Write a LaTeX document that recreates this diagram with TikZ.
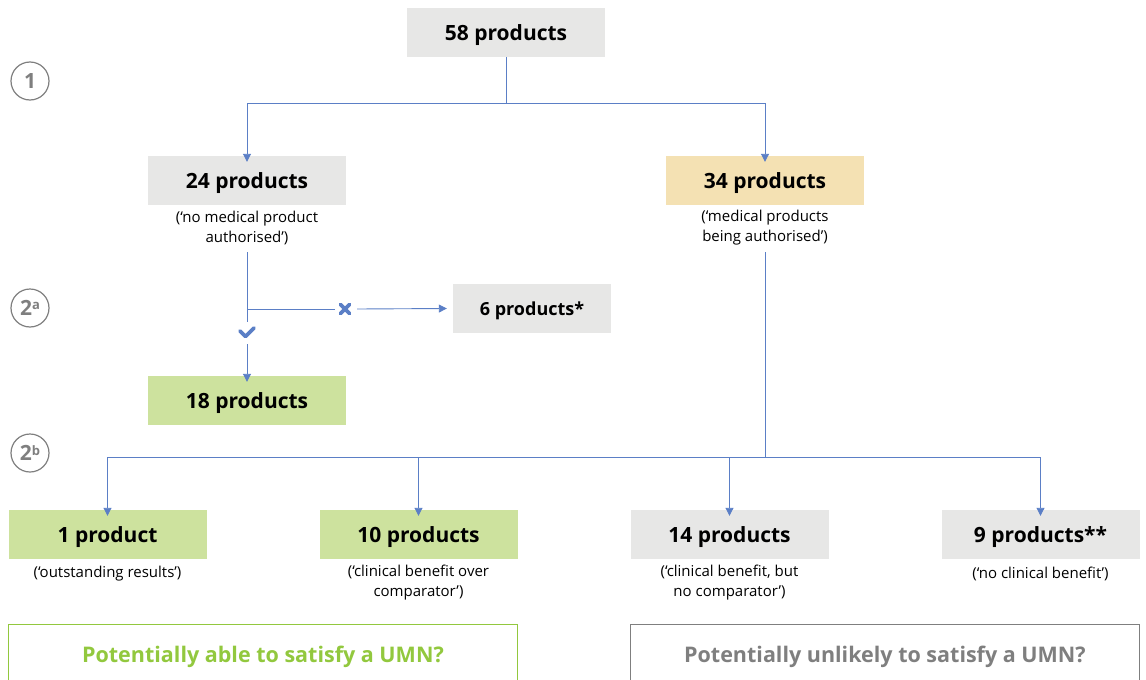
\documentclass[tikz,border=0pt]{standalone}
\usepackage{fontspec}
\setmainfont{Open Sans}
\usetikzlibrary{arrows.meta}
\definecolor{boxgray}{HTML}{E7E7E6}
\definecolor{boxgreen}{HTML}{CDE29E}
\definecolor{boxyellow}{HTML}{F4E1B3}
\definecolor{linkblue}{HTML}{5B7FC6}
\definecolor{txtgreen}{HTML}{92C83E}
\definecolor{txtgray}{HTML}{7F7F7F}
\definecolor{circgray}{HTML}{7F7F7F}
\tikzset{
  prod/.style={minimum width=198pt, minimum height=49pt, inner sep=0pt, text depth=0pt, font=\fontsize{21}{24}\selectfont\bfseries},
  note/.style={align=center, font=\fontsize{15}{20}\selectfont, inner sep=0pt},
  link/.style={draw=linkblue, line width=0.9pt},
  arr/.style={link, -{Triangle[width=8pt,length=8pt]}},
  glyph/.style={draw=linkblue, line width=3.6pt, line cap=round, line join=round},
  stage/.style={circle, draw=circgray, line width=1.2pt, minimum size=38pt, inner sep=0pt, text=circgray, font=\fontsize{21}{24}\selectfont\bfseries},
  verdict/.style={minimum width=509pt, minimum height=60pt, inner sep=0pt, line width=0.9pt, text depth=0pt, font=\fontsize{21.5}{24}\selectfont\bfseries}
}
\begin{document}
\begin{tikzpicture}[x=1pt,y=-1pt]
\useasboundingbox (0,0) rectangle (1146,680);
% stage markers
\node[stage] (s1) at (30,81) {1};
\node[stage] (s2a) at (30,308) {2\raisebox{0.5ex}{\fontsize{13}{14}\selectfont a}};
\node[stage] (s2b) at (30,453) {2\raisebox{0.5ex}{\fontsize{13}{14}\selectfont b}};
% boxes
\node[prod, fill=boxgray] (p58) at (506,32.5) {58 products};
\node[prod, fill=boxgray] (p24) at (247,180.5) {24 products};
\node[prod, fill=boxyellow] (p34) at (765,180.5) {34 products};
\node[note] (n24) at (247,228) {(‘no medical product\\authorised’)};
\node[note] (n34) at (765,228) {(‘medical products\\being authorised’)};
\node[prod, fill=boxgray, minimum width=158pt] (p6) at (532,308.5) {\fontsize{18}{20}\selectfont 6 products*};
\node[prod, fill=boxgreen] (p18) at (247,400.5) {18 products};
\node[prod, fill=boxgreen] (p1) at (107.5,534.5) {1 product};
\node[prod, fill=boxgreen] (p10) at (418.5,534.5) {10 products};
\node[prod, fill=boxgray] (p14) at (729.5,534.5) {14 products};
\node[prod, fill=boxgray] (p9) at (1040.5,534.5) {9 products**};
\node[note] (n1) at (107.5,574) {(‘outstanding results’)};
\node[note] (n10) at (418.5,583) {(‘clinical benefit over\\comparator’)};
\node[note] (n14) at (729.5,583) {(‘clinical benefit, but\\no comparator’)};
\node[note] (n9) at (1040.5,574) {(‘no clinical benefit’)};
\node[verdict, draw=txtgreen, text=txtgreen, anchor=north west] (vg) at (8,624) {Potentially able to satisfy a UMN?};
\node[verdict, draw=txtgray, text=txtgray, anchor=north west] (vr) at (630,624) {Potentially unlikely to satisfy a UMN?};
% coordinates
\coordinate (j1) at (506,103);
\coordinate (j1l) at (p24.north |- j1);
\coordinate (j1r) at (p34.north |- j1);
\coordinate (a24) at (247,252);
\coordinate (j2) at (247,309);
\coordinate (c1) at (247,322);
\coordinate (c2) at (247,344);
\coordinate (x1) at (335,309);
\coordinate (x2) at (357,309);
\coordinate (a34) at (765,252);
\coordinate (j3) at (765,457);
\coordinate (j3a) at (p1.north |- j3);
\coordinate (j3b) at (p10.north |- j3);
\coordinate (j3c) at (p14.north |- j3);
\coordinate (j3d) at (p9.north |- j3);
% connectors
\draw[link] (p58.south) -- (j1);
\draw[link] (j1l) -- (j1r);
\draw[arr] (j1l) -- ([yshift=-6pt]p24.north);
\draw[arr] (j1r) -- ([yshift=-6pt]p34.north);
\draw[link] (a24) -- (c1);
\draw[arr] (c2) -- ([yshift=-6pt]p18.north);
% check mark
\draw[glyph] (240,331) -- (245.5,336.5) -- (254,328);
\draw[link] (j2) -- (x1);
% cross mark
\draw[glyph] (340.5,304.5) -- (349.5,313.5) (349.5,304.5) -- (340.5,313.5);
\draw[arr] (x2) -- ([xshift=-6pt]p6.west);
\draw[link] (a34) -- (j3);
\draw[link] (j3a) -- (j3d);
\draw[arr] (j3a) -- ([yshift=-6pt]p1.north);
\draw[arr] (j3b) -- ([yshift=-6pt]p10.north);
\draw[arr] (j3c) -- ([yshift=-6pt]p14.north);
\draw[arr] (j3d) -- ([yshift=-6pt]p9.north);
\end{tikzpicture}
\end{document}
